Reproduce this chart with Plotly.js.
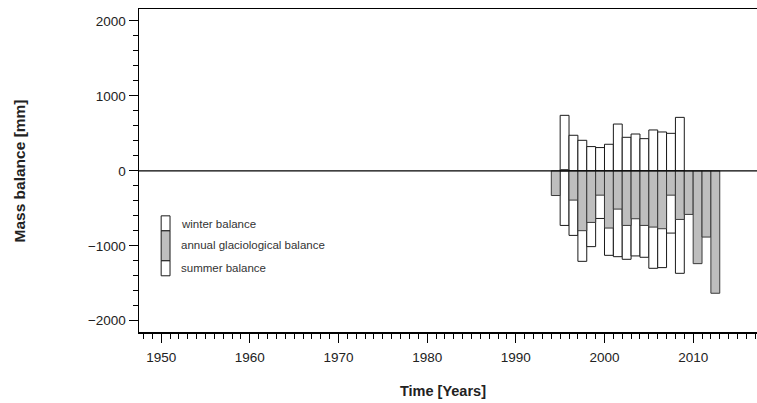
<!DOCTYPE html>
<html>
<head>
<meta charset="utf-8">
<script src="https://cdn.plot.ly/plotly-3.0.1.min.js"></script>
<style>html,body{margin:0;padding:0;background:#fff;}#chart{width:757px;height:403px;}</style>
</head>
<body>
<div id="chart"></div>
<script>
var years = [1994, 1995, 1996, 1997, 1998, 1999, 2000, 2001, 2002, 2003, 2004, 2005, 2006, 2007, 2008, 2009, 2010, 2011, 2012];
var winterBalance = [null, 741, 475, 408, 324, 311, 355, 625, 448, 492, 430, 546, 519, 501, 714, null, null, null, null];
var summerBalance = [null, -728, -861, -1207, -1011, -635, -1127, -1145, -1180, -1135, -1153, -1300, -1291, -830, -1367, null, null, null, null];
var annualBalance = [-329, 17, -390, -798, -688, -324, -763, -510, -728, -639, -728, -750, -772, -324, -648, -581, -1238, -883, -1633];
var legendLabels = ["winter balance", "annual glaciological balance", "summer balance"];

var FONT = "Liberation Sans, Arial, Helvetica, sans-serif";

function barTrace(vals, fill, edge, name) {
  return {
    type: "bar", x: years, y: vals, base: 0, width: 1, offset: 0,
    marker: {color: fill, line: {color: edge, width: 1}},
    name: name, showlegend: false, hoverinfo: "x+y"
  };
}

var data = [
  barTrace(winterBalance, "#ffffff", "#1a1a1a", legendLabels[0]),
  barTrace(summerBalance, "#ffffff", "#1a1a1a", legendLabels[2]),
  barTrace(annualBalance, "#bebebe", "#3a3a3a", legendLabels[1])
];

var layout = {
  width: 757, height: 403,
  margin: {l: 139, r: 0, t: 9, b: 71},
  paper_bgcolor: "#fff", plot_bgcolor: "#fff",
  barmode: "overlay",
  font: {family: FONT, color: "#222"},
  xaxis: {
    range: [1947.5, 2017.2], dtick: 10, tick0: 1950,
    ticks: "outside", ticklen: 9, tickwidth: 1, tickcolor: "#000",
    minor: {dtick: 1, ticks: "outside", ticklen: 5, tickcolor: "#000", tickwidth: 1, showgrid: false},
    showgrid: false, zeroline: false, showline: true, linecolor: "#000", linewidth: 1.5, mirror: true,
    ticklabelstandoff: 3,
    tickfont: {family: FONT, size: 13.5, color: "#222"}
  },
  yaxis: {
    range: [-2150, 2160], dtick: 1000, tick0: 0,
    ticks: "outside", ticklen: 9, tickwidth: 1, tickcolor: "#000",
    minor: {dtick: 200, ticks: "outside", ticklen: 5, tickcolor: "#000", tickwidth: 1, showgrid: false},
    showgrid: false, zeroline: false, showline: true, linecolor: "#000", linewidth: 1.5,
    tickfont: {family: FONT, size: 13.5, color: "#222"}
  },
  shapes: [
    {type: "line", xref: "paper", x0: 0, x1: 1, yref: "y", y0: 0, y1: 0, line: {color: "#000", width: 1.2}, layer: "above"},
    {type: "rect", xref: "x", yref: "y", x0: 1950, x1: 1951, y0: -600, y1: -800, fillcolor: "#fff", line: {color: "#1a1a1a", width: 1}},
    {type: "rect", xref: "x", yref: "y", x0: 1950, x1: 1951, y0: -800, y1: -1200, fillcolor: "#bebebe", line: {color: "#1a1a1a", width: 1}},
    {type: "rect", xref: "x", yref: "y", x0: 1950, x1: 1951, y0: -1200, y1: -1400, fillcolor: "#fff", line: {color: "#1a1a1a", width: 1}}
  ],
  annotations: [
    {xref: "x", yref: "y", x: 1952, y: -705, text: legendLabels[0], showarrow: false, xanchor: "left", yanchor: "middle", font: {family: FONT, size: 11.5, color: "#333"}},
    {xref: "x", yref: "y", x: 1952, y: -995, text: legendLabels[1], showarrow: false, xanchor: "left", yanchor: "middle", font: {family: FONT, size: 11.5, color: "#333"}},
    {xref: "x", yref: "y", x: 1952, y: -1300, text: legendLabels[2], showarrow: false, xanchor: "left", yanchor: "middle", font: {family: FONT, size: 11.5, color: "#333"}},
    {xref: "paper", yref: "paper", x: -0.1926, y: 0.5, text: "<b>Mass balance [mm]</b>", textangle: -90, showarrow: false, xanchor: "center", yanchor: "middle", font: {family: FONT, size: 15.5, color: "#222"}},
    {xref: "paper", yref: "paper", x: 0.492, y: -0.1827, text: "<b>Time [Years]</b>", showarrow: false, xanchor: "center", yanchor: "middle", font: {family: FONT, size: 14.5, color: "#222"}}
  ]
};

Plotly.newPlot("chart", data, layout, {displayModeBar: false, staticPlot: true});
</script>
</body>
</html>
